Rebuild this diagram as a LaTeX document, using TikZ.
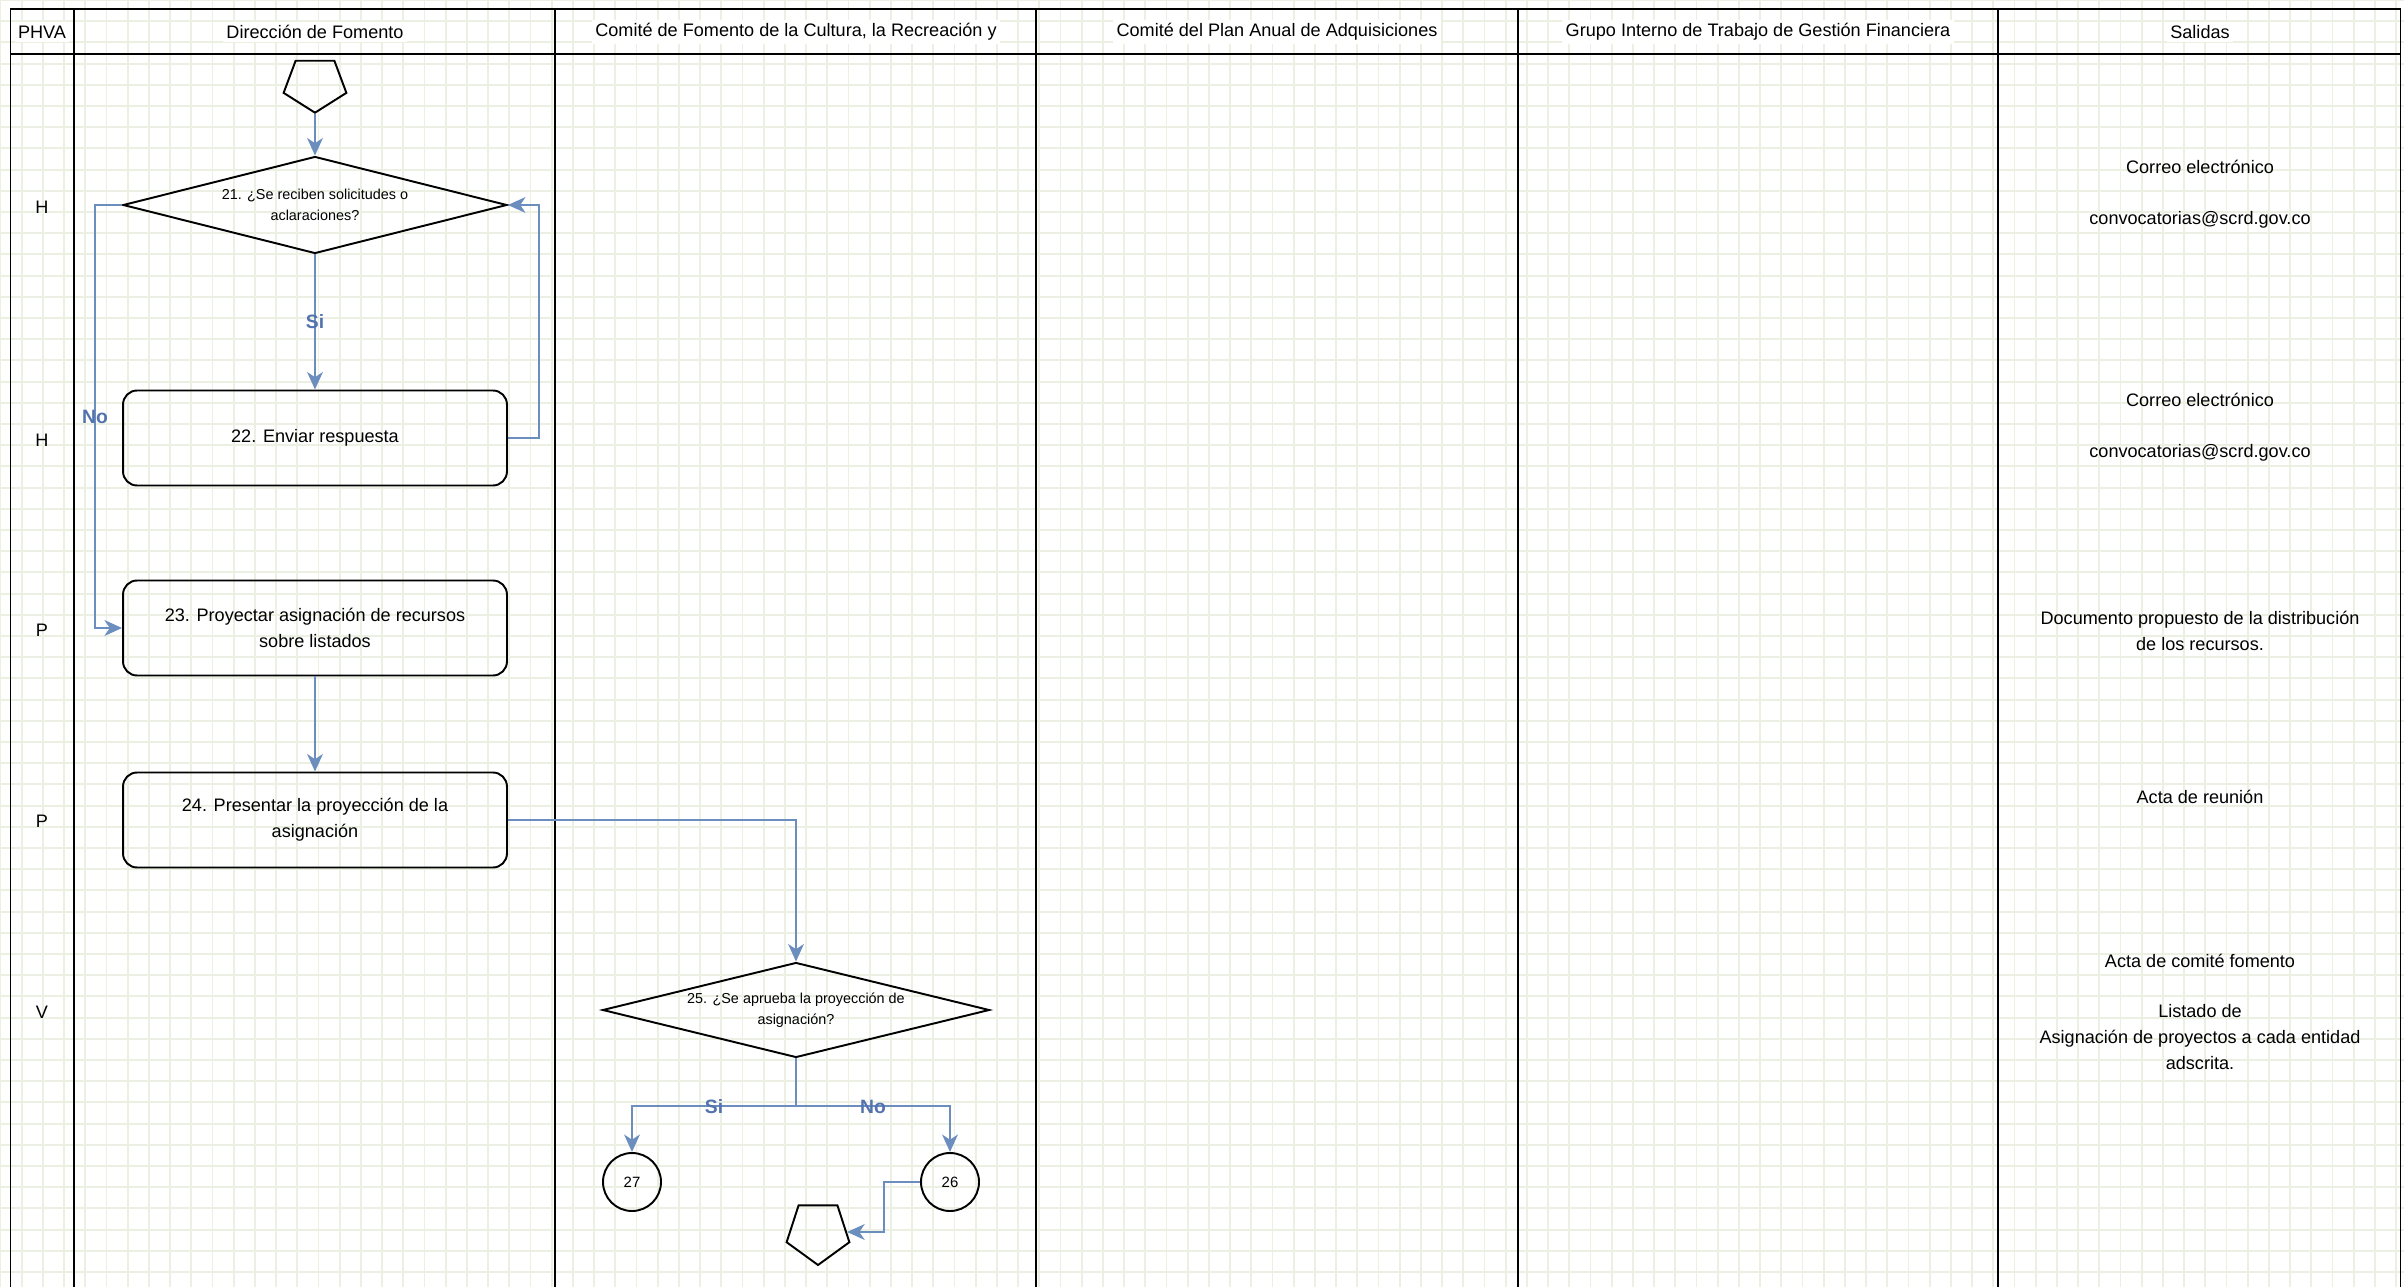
\documentclass[tikz,border=0pt]{standalone}
\usepackage{fontspec}
\setmainfont{Liberation Sans}
\usetikzlibrary{shapes.geometric,arrows.meta}
\definecolor{flowblue}{HTML}{6C8EBF}
\definecolor{labelblue}{HTML}{5473AE}
\definecolor{gridgreen}{HTML}{EBF0E3}
\begin{document}
\begin{tikzpicture}[
		x=0.02cm, y=-0.02cm,
		every node/.style={font=\fontsize{10.3}{14.8}\selectfont, align=center, inner sep=1pt},
		gridline/.style={draw=gridgreen, line width=1.1pt},
		lane/.style={draw=black, line width=1.1pt},
		hdr/.style={fill=white, inner sep=2pt},
		stepbox/.style={draw, line width=1.1pt, rounded corners=0.28cm, minimum width=7.68cm, minimum height=1.9cm},
		decision/.style={diamond, aspect=4, draw, line width=1.1pt, inner sep=0pt, minimum width=7.68cm, minimum height=1.94cm, font=\fontsize{8.2}{12.2}\selectfont},
		offpage/.style={regular polygon, regular polygon sides=5, shape border rotate=180, draw, line width=1.1pt, minimum size=1.32cm, inner sep=0pt},
		refcircle/.style={circle, draw, line width=1.1pt, minimum size=1.16cm, inner sep=0pt, font=\fontsize{8.5}{10}\selectfont},
		flow/.style={draw=flowblue, line width=1.1pt, -{Stealth[length=10pt, width=9pt, inset=3pt]}},
		lbl/.style={text=labelblue, font=\fontsize{11}{13}\selectfont\bfseries, inner sep=0pt}
	]
		\useasboundingbox (0,0) rectangle (2404,1287);
		\clip (0,0) rectangle (2404,1287);
		
		% Background grid
		\foreach \gx in {0,...,113}
			\draw[gridline] ({0.5+21.2*\gx},0) -- ({0.5+21.2*\gx},1287);
		\foreach \gy in {0,...,60}
			\draw[gridline] (0,{21.2*\gy}) -- (2404,{21.2*\gy});
		
		% Lanes
		\draw[lane] (10.5,1300) |- (2400.5,9) -- (2400.5,1300);
		\draw[lane] (10.5,54) -- (2400.5,54);
		\foreach \cx in {74,555,1036,1518,1998}
			\draw[lane] (\cx,9) -- (\cx,1300);
		
		% Headers
		\node[hdr] (hphva) at (42,32) {PHVA};
		\node[hdr] (hfom) at (315,32) {Dirección de Fomento};
		\node[hdr] (hcom) at (796,32) {Comité de Fomento de la Cultura, la Recreación y};
		\node[hdr] (hpaa) at (1277,32) {Comité del Plan Anual de Adquisiciones};
		\node[hdr] (hgit) at (1758,32) {Grupo Interno de Trabajo de Gestión Financiera};
		\node[hdr] (hsal) at (2200,32) {Salidas};
		
		% PHVA
		\node (p1) at (42,207) {H};
		\node (p2) at (42,440) {H};
		\node (p3) at (42,630) {P};
		\node (p4) at (42,821) {P};
		\node (p5) at (42,1012) {V};
		
		% Steps
		\begin{scope}[shift={(315,84)}]
			\node[offpage, yscale=0.87, transform shape] (pentA) at (0,0) {};
		\end{scope}
		\node[decision] (d21) at (315,205) {21. ¿Se reciben solicitudes o\\aclaraciones?};
		\node[stepbox] (b22) at (315,438) {22. Enviar respuesta};
		\node[stepbox] (b23) at (315,628) {23. Proyectar asignación de recursos\\sobre listados};
		\node[stepbox] (b24) at (315,820) {24. Presentar la proyección de la\\asignación};
		\node[decision, minimum width=7.74cm, minimum height=1.9cm] (d25) at (796,1010) {25. ¿Se aprueba la proyección de\\asignación?};
		\node[refcircle] (c27) at (632,1182) {27};
		\node[refcircle] (c26) at (950,1182) {26};
		\node[offpage] (pentB) at (818,1232) {};
		
		% Outputs
		\node (s1) at (2200,194) {Correo electrónico\\[14pt]convocatorias@scrd.gov.co};
		\node (s2) at (2200,427) {Correo electrónico\\[14pt]convocatorias@scrd.gov.co};
		\node (s3) at (2200,631) {Documento propuesto de la distribución\\de los recursos.};
		\node (s4) at (2200,797) {Acta de reunión};
		\node (s5) at (2200,1012) {Acta de comité fomento\\[14pt]Listado de\\Asignación de proyectos a cada entidad\\adscrita.};
		
		% Edges
		\draw[flow] (pentA.south) -- (d21.north);
		\draw[flow] (d21.south) -- node[lbl] (lsi1) {Si} (b22.north);
		\draw[flow] (b22.east) -- ++(31,0) |- (d21.east);
		\draw[flow] (d21.west) -- ++(-27,0) |- node[lbl, pos=0.25] (lno1) {No} (b23.west);
		\draw[flow] (b23.south) -- (b24.north);
		\draw[flow] (b24.east) -| (d25.north);
		\draw[flow] (d25.south) -- ++(0,48) -| node[lbl, pos=0.25] (lsi2) {Si} (c27.north);
		\draw[flow] (d25.south) -- ++(0,48) -| node[lbl, pos=0.25] (lno2) {No} (c26.north);
		\draw[flow] (c26.west) -- ++(-36,0) |- (pentB.east);
	\end{tikzpicture}
\end{document}
